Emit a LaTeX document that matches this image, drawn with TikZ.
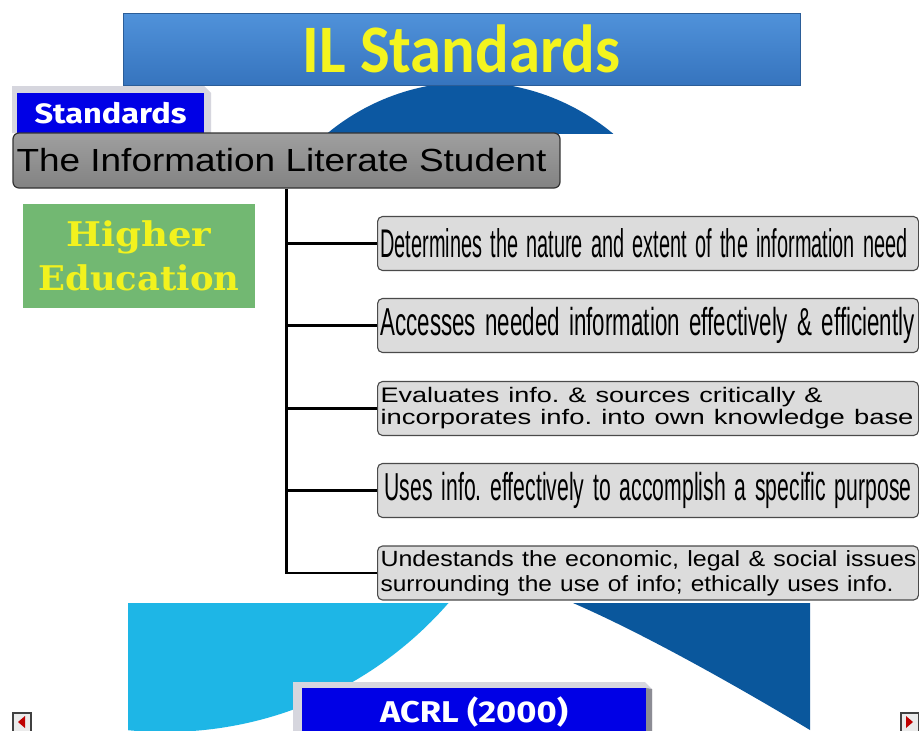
\documentclass[tikz,border=0pt]{standalone}
\usepackage{graphicx}
\usepackage{fontspec}
\setmainfont{Liberation Sans}
\newfontfamily\titlefont{Carlito}
\newfontfamily\heserif{DejaVu Serif}
\newfontfamily\comicfont{Fira Sans}
\frenchspacing
\newcommand{\fitto}[2]{\resizebox{#1}{\height}{#2}}
\newcommand{\condfont}[1]{\fontsize{#1}{#1}\selectfont\frenchspacing\spaceskip=0.42em\relax\xspaceskip=0.42em\relax}
\definecolor{titletop}{HTML}{5092DA}
\definecolor{titlebot}{HTML}{3674BE}
\definecolor{titleyel}{HTML}{F4F41E}
\definecolor{domeblue}{HTML}{0C58A2}
\definecolor{lightblue}{HTML}{1EB6E6}
\definecolor{darkblue}{HTML}{0A579C}
\definecolor{stdblue}{HTML}{0000E6}
\definecolor{framegray}{HTML}{D6D6DE}
\definecolor{framedark}{HTML}{8C8C94}
\definecolor{boxgray}{HTML}{8E8E8E}
\definecolor{itemgray}{HTML}{DCDCDC}
\definecolor{edgegray}{HTML}{4A4A4A}
\definecolor{hegreen}{HTML}{72B872}
\definecolor{heyellow}{HTML}{F2F21E}
\begin{document}
\begin{tikzpicture}[x=1pt,y=-1pt,
  titlebox/.style={rectangle, draw=titlebot!80!black, line width=0.6pt, top color=titletop, bottom color=titlebot, minimum width=677pt, minimum height=72pt, inner sep=0pt, text=titleyel},
  stdbox/.style={rectangle, fill=stdblue, text=white, inner sep=0pt},
  studentbox/.style={rectangle, rounded corners=6pt, draw=black!80, line width=1.2pt, top color=boxgray!85!white, bottom color=boxgray!92!black, minimum width=547pt, minimum height=55pt, inner sep=0pt, text=black},
  hebox/.style={rectangle, fill=hegreen, minimum width=232pt, minimum height=104pt, inner sep=0pt, text=heyellow, align=center, font=\heserif\bfseries\fontsize{34}{44}\selectfont},
  item/.style={rectangle, rounded corners=5pt, draw=edgegray, line width=1.1pt, fill=itemgray, minimum height=54pt, text width=535pt, inner xsep=3pt, inner ysep=0pt, align=left, anchor=west, text=black},
  conn/.style={draw=black, line width=2.8pt},
  icon/.style={draw=black!75, line width=1.2pt, fill=black!8}
]
\useasboundingbox (0,0) rectangle (919,731);
\fill[white] (0,0) rectangle (919,731);

% background shapes
\begin{scope}
  \clip (0,85) rectangle (919,133);
  \fill[domeblue] (470,306) circle (224pt);
\end{scope}
\begin{scope}
  \clip (128,603) rectangle (919,731);
  \fill[lightblue] (165,356) circle (376pt);
\end{scope}
\fill[darkblue] (573,603) -- (810,603) -- (810,730) .. controls (730,682) and (640,632) .. (573,603) -- cycle;

% title
\node[titlebox] (title) at (461.5,49) {\fitto{318pt}{\titlefont\bfseries\fontsize{68}{68}\selectfont IL Standards}};

% standards label
\fill[framegray] (12,86) -- (204,86) -- (211,93) -- (211,133) -- (12,133) -- cycle;
\node[stdbox, minimum width=187pt, minimum height=40pt] (std) at (110.5,113) {\fitto{152pt}{\comicfont\bfseries\fontsize{28}{28}\selectfont Standards}};

% main box
\node[studentbox] (student) at (286.5,160.5) {\hspace*{-10pt}\fitto{530pt}{\fontsize{32}{32}\selectfont The Information Literate Student}};

% higher education
\node[hebox] (he) at (139,256) {\fitto{145pt}{Higher}\\\fitto{201pt}{Education}};

% items
\node[item] (b1) at (377,243.5) {\fitto{527pt}{\condfont{40}Determines the nature and extent of the information need}};
\node[item] (b2) at (377,325.5) {\fitto{534pt}{\condfont{39}Accesses needed information effectively \& efficiently}};
\node[item, font={\fontsize{21}{22}\selectfont\frenchspacing}] (b3) at (377,408.5) {\fitto{442pt}{Evaluates info. \& sources critically \&}\\\fitto{533pt}{incorporates info. into own knowledge base}};
\node[item] (b4) at (377,490.5) {\hspace*{4pt}\fitto{527pt}{\condfont{39}Uses info. effectively to accomplish a specific purpose}};
\node[item, font={\fontsize{22}{25}\selectfont\frenchspacing}] (b5) at (377,573) {\fitto{536pt}{Undestands the economic, legal \& social issues}\\\fitto{513pt}{surrounding the use of info; ethically uses info.}};

% connectors
\draw[conn] (student.south) |- (b5.west);
\draw[conn] (student.south |- b1.west) -- (b1.west);
\draw[conn] (student.south |- b2.west) -- (b2.west);
\draw[conn] (student.south |- b3.west) -- (b3.west);
\draw[conn] (student.south |- b4.west) -- (b4.west);

% ACRL label
\fill[framegray] (293,682) -- (645,682) -- (652,689) -- (652,731) -- (293,731) -- cycle;
\fill[framedark] (646,688) -- (652,689) -- (652,731) -- (646,731) -- cycle;
\node[stdbox, minimum width=344pt, minimum height=48pt] (acrl) at (474,712) {\fitto{188pt}{\comicfont\bfseries\fontsize{30}{30}\selectfont ACRL (2000)}};

% navigation icons
\draw[icon] (13,713) rectangle (31,734);
\fill[red!75!black] (18,722) -- (25,716) -- (25,728) -- cycle;
\draw[icon] (901,713) rectangle (919,734);
\fill[red!75!black] (913,722) -- (906,716) -- (906,728) -- cycle;
\end{tikzpicture}
\end{document}
